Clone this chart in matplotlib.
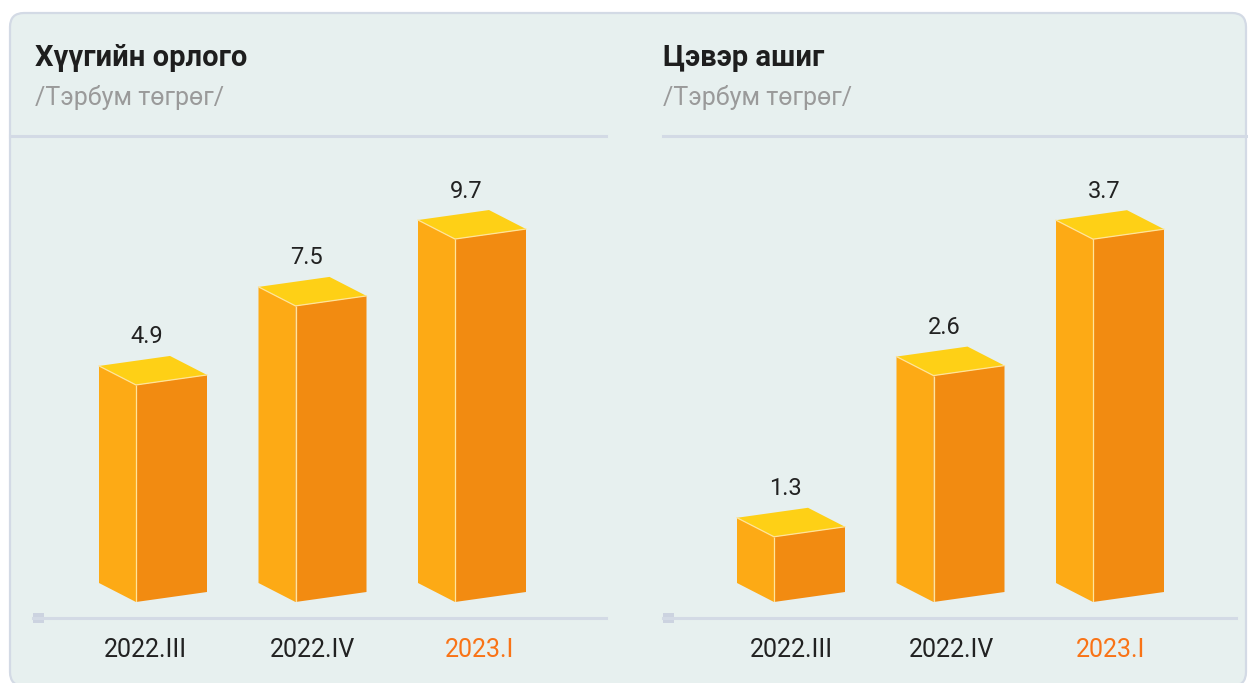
import matplotlib
matplotlib.use('Agg')
import matplotlib.pyplot as plt
from matplotlib.patches import Polygon, FancyBboxPatch, Rectangle
from matplotlib.lines import Line2D

plt.rcParams['font.family'] = ['Roboto', 'DejaVu Sans']

# data
categories = ['2022.III', '2022.IV', '2023.I']
revenue = [4.9, 7.5, 9.7]      # Хүүгийн орлого
profit = [1.3, 2.6, 3.7]       # Цэвэр ашиг
titles = ['Хүүгийн орлого', 'Цэвэр ашиг']
unit = '/Тэрбум төгрөг/'

W, H = 1248, 683
fig = plt.figure(figsize=(W / 100, H / 100), dpi=100)
fig.patch.set_facecolor('white')

def fx(px):
    return px / W

def fy(py):
    return 1 - py / H

# card background
card = FancyBboxPatch((10 / 100, (H - 686) / 100), 1236 / 100, 673 / 100,
                      boxstyle='round,pad=0,rounding_size=0.14',
                      transform=fig.dpi_scale_trans,
                      facecolor='#E7F0EF', edgecolor='#D3DAE5', lw=1.6,
                      zorder=-5)
fig.add_artist(card)

c_side = '#FDAA15'
c_front = '#F28B11'
c_top = '#FED016'
c_edge = '#FFE49A'
txt_dark = '#222222'

panels = [
    dict(x0=40, x1=606, front0=136, ymin=-2.24, ppu=30.4, vals=revenue,
         tx=35, line0=10, line1=606, sq=33, ax_end=606, lab0=9, lab_step=167.5),
    dict(x0=663, x1=1248, front0=774, ymin=0.774, ppu=124.0, vals=profit,
         tx=663, line0=663, line1=1248, sq=663, ax_end=1236, lab0=17, lab_step=160),
]

step = 159.5        # px between bars
top_px, base_px = 140, 602

for k, p in enumerate(panels):
    ax = fig.add_axes([fx(p['x0']), fy(base_px), fx(p['x1'] - p['x0']),
                       (base_px - top_px) / H])
    ax.set_xlim((p['x0'] - p['front0']) / step, (p['x1'] - p['front0']) / step)
    ymax = p['ymin'] + (base_px - top_px) / p['ppu']
    ax.set_ylim(p['ymin'], ymax)
    ax.axis('off')
    ax.patch.set_alpha(0)

    sx = 1 / step
    sy = 1 / p['ppu']
    b = p['ymin']
    for i, v in enumerate(p['vals']):
        side = Polygon([(i - 37 * sx, b + 19 * sy), (i, b), (i, v),
                        (i - 37 * sx, v + 19 * sy)],
                       closed=True, facecolor=c_side, edgecolor='none')
        front = Polygon([(i, b), (i + 71 * sx, b + 10 * sy),
                         (i + 71 * sx, v + 10 * sy), (i, v)],
                        closed=True, facecolor=c_front, edgecolor='none')
        top = Polygon([(i - 37 * sx, v + 19 * sy), (i, v),
                       (i + 71 * sx, v + 10 * sy), (i + 34 * sx, v + 29 * sy)],
                      closed=True, facecolor=c_top, edgecolor='none')
        for poly in (side, front, top):
            ax.add_patch(poly)
        ax.plot([i, i], [b, v], color=c_edge, lw=0.9, solid_capstyle='butt')
        ax.plot([i - 37 * sx, i, i + 71 * sx],
                [v + 19 * sy, v, v + 10 * sy], color=c_edge, lw=0.9)
        ax.annotate(f'{v:.1f}', (i, v), xytext=(11 * 0.72, 48 * 0.72),
                    textcoords='offset points', ha='center', va='center',
                    fontsize=17, color=txt_dark)
        lx = (p['lab0'] + i * (p['lab_step'] - step)) * sx + i
        ax.text(lx, b - 48 * sy, categories[i], ha='center',
                va='center', fontsize=18, clip_on=False,
                color='#F97316' if i == len(categories) - 1 else txt_dark)

    # titles
    fig.text(fx(p['tx']), fy(58), titles[k], fontsize=21, fontweight='bold',
             color='#1E1E1E', ha='left', va='center')
    fig.text(fx(p['tx']), fy(97), unit, fontsize=18,
             color='#9A9A9A', ha='left', va='center')

    # separator and axis lines
    fig.add_artist(Line2D([fx(p['line0']), fx(p['line1'])], [fy(136), fy(136)],
                          transform=fig.transFigure, color='#D3DAE5', lw=2.2))
    fig.add_artist(Line2D([fx(p['sq']), fx(p['ax_end'])], [fy(618), fy(618)],
                          transform=fig.transFigure, color='#D3DAE5', lw=2.2))
    fig.add_artist(Rectangle((fx(p['sq']), fy(623)), fx(11), 10 / H,
                             transform=fig.transFigure, facecolor='#CCD3E0',
                             edgecolor='none'))

fig.savefig('out.png', dpi=100)
